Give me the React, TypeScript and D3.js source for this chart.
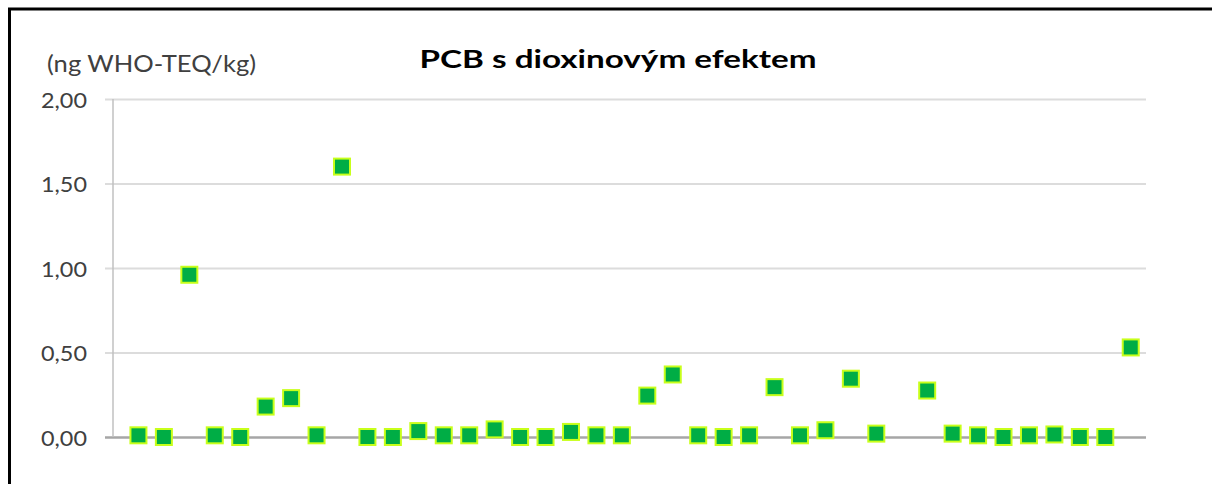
import React, { useRef, useEffect } from "react";
import * as d3 from "d3";

// data (index 31 has no value)
const samples = d3.range(1, 41);
const teqValues: (number | null)[] = [
    0.01, 0.0, 0.96, 0.01, 0.0, 0.18, 0.23, 0.01, 1.6, 0.0,
    0.0, 0.035, 0.01, 0.01, 0.045, 0.0, 0.0, 0.03, 0.01, 0.01,
    0.245, 0.37, 0.01, 0.0, 0.01, 0.295, 0.01, 0.04, 0.345, 0.02,
    null, 0.275, 0.02, 0.01, 0.0, 0.01, 0.015, 0.0, 0.0, 0.53,
];
const yTicks = [0, 0.5, 1, 1.5, 2];
const yTickLabels = ["0,00", "0,50", "1,00", "1,50", "2,00"];

const title = "PCB s dioxinovým efektem";
const unitLabel = "(ng WHO-TEQ/kg)";

const App = () => {
    const svgRef = useRef<SVGSVGElement>(null);

    useEffect(() => {
        const svg = d3.select(svgRef.current);
        svg.selectAll("*").remove();

        const width = 1212;
        const height = 484;
        const plot = { left: 113, right: 1146, top: 99, bottom: 437 };
        const font = "Lato, 'Open Sans', sans-serif";

        svg.attr("width", width).attr("height", height);

        svg.append("rect")
            .attr("width", width)
            .attr("height", height)
            .attr("fill", "#fff");

        // ramecek grafu
        svg.append("rect")
            .attr("x", 9.5)
            .attr("y", 9)
            .attr("width", width + 20)
            .attr("height", height + 20)
            .attr("fill", "none")
            .attr("stroke", "#000")
            .attr("stroke-width", 3);

        const x = d3.scaleLinear().domain([0, 40.6]).range([plot.left, plot.right]);
        const y = d3.scaleLinear().domain([0, 2]).range([plot.bottom, plot.top]);

        // mrizka + osa y
        const yAxis = svg
            .append("g")
            .attr("transform", `translate(${plot.left},0)`)
            .call(
                d3
                    .axisLeft(y)
                    .tickValues(yTicks)
                    .tickFormat((d, i) => yTickLabels[i])
                    .tickSizeInner(-(plot.right - plot.left))
                    .tickSizeOuter(0)
                    .tickPadding(26)
            );
        yAxis.select(".domain").remove();
        yAxis
            .selectAll(".tick line")
            .attr("x1", -8)
            .attr("stroke", (d) => (d === 0 ? "#a6a6a6" : "#dcdcdc"))
            .attr("stroke-width", (d) => (d === 0 ? 2.5 : 2));
        yAxis
            .selectAll(".tick text")
            .attr("font-family", font)
            .attr("font-size", 21)
            .attr("dy", "0.4em")
            .attr("textLength", 46)
            .attr("lengthAdjust", "spacingAndGlyphs")
            .attr("fill", "#404040");

        svg.append("line")
            .attr("x1", plot.left)
            .attr("x2", plot.left)
            .attr("y1", plot.top)
            .attr("y2", plot.bottom)
            .attr("stroke", "#c0c0c0")
            .attr("stroke-width", 1.5);

        // body
        const size = 16;
        svg.append("g")
            .selectAll("rect")
            .data(samples.map((s, i) => ({ s, v: teqValues[i] })).filter((d) => d.v !== null))
            .join("rect")
            .attr("x", (d) => x(d.s) - size / 2)
            .attr("y", (d) => y(d.v as number) - size / 2)
            .attr("width", size)
            .attr("height", size)
            .attr("fill", "#00ad45")
            .attr("stroke", "#c8ff1a")
            .attr("stroke-width", 2);

        svg.append("text")
            .attr("x", 618)
            .attr("y", 68)
            .attr("text-anchor", "middle")
            .attr("font-family", font)
            .attr("font-weight", "bold")
            .attr("font-size", 25)
            .attr("textLength", 397)
            .attr("lengthAdjust", "spacingAndGlyphs")
            .attr("fill", "#000")
            .text(title);

        svg.append("text")
            .attr("x", 47)
            .attr("y", 72)
            .attr("font-family", font)
            .attr("font-size", 23)
            .attr("textLength", 209)
            .attr("lengthAdjust", "spacingAndGlyphs")
            .attr("fill", "#404040")
            .text(unitLabel);
    }, []);

    return <svg ref={svgRef} style={{ position: "absolute", left: 0, top: 0 }}></svg>;
};

export default App;
